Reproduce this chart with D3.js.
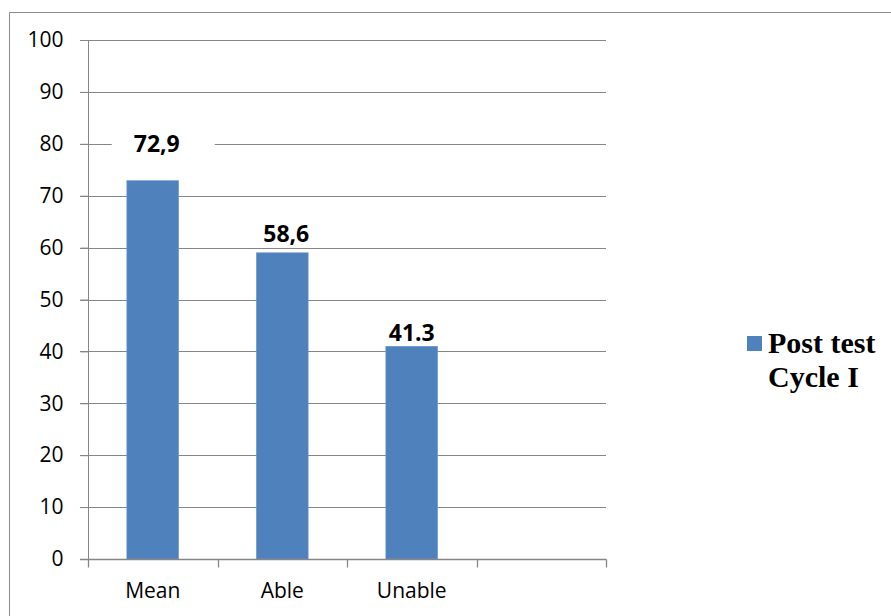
<!DOCTYPE html>
<html>
<head>
<meta charset="utf-8">
<script src="https://cdn.jsdelivr.net/npm/d3@7"></script>
<style>
  html, body { margin: 0; padding: 0; background: #fff; }
  svg { display: block; }
</style>
</head>
<body>
<script>
// ---- data ----
const categories = ["Mean", "Able", "Unable", ""];
const values = [72.9, 59.0, 41.0];
const valueLabels = ["72,9", "58,6", "41.3"];
const seriesName = ["Post test", "Cycle I"];
const yTicks = [0, 10, 20, 30, 40, 50, 60, 70, 80, 90, 100];

// ---- layout ----
const W = 891, H = 616;
const plot = { left: 88, right: 606, top: 40, bottom: 559 };
const labelBaselineValue = [78.4, 61.1, 42.0]; // where the hand-placed labels sit
const barColor = "#4F81BD";
const gridColor = "#868686";

const svg = d3.select("body").append("svg").attr("width", W).attr("height", H);

// outer frame (top and left edges visible)
svg.append("line").attr("x1", 9.5).attr("x2", W).attr("y1", 12.5).attr("y2", 12.5)
  .attr("stroke", "#8c8c8c").attr("stroke-width", 1);
svg.append("line").attr("x1", 9.5).attr("x2", 9.5).attr("y1", 12.5).attr("y2", H)
  .attr("stroke", "#8c8c8c").attr("stroke-width", 1);

const x = d3.scaleBand().domain(categories.map((c, i) => i)).range([plot.left, plot.right]).paddingInner(0.6).paddingOuter(0.3);
const xOuter = d3.scaleBand().domain(categories.map((c, i) => i)).range([plot.left, plot.right]);
const y = d3.scaleLinear().domain([0, 100]).range([plot.bottom, plot.top]);

// gridlines (also act as left ticks)
const grid = svg.append("g");
grid.selectAll("line").data(yTicks.filter(t => t > 0)).join("line")
  .attr("x1", plot.left - 8).attr("x2", plot.right)
  .attr("y1", d => Math.round(y(d)) + 0.5).attr("y2", d => Math.round(y(d)) + 0.5)
  .attr("stroke", gridColor).attr("stroke-width", 1);

// y axis
const yAxis = d3.axisLeft(y).tickValues(yTicks).tickSize(8).tickPadding(17);
const gy = svg.append("g").attr("transform", `translate(${plot.left + 0.5},0)`).call(yAxis);
gy.select(".domain").attr("stroke", gridColor).attr("d", `M-8,${plot.bottom + 0.5}H0V${plot.top}`);
gy.selectAll(".tick line").attr("stroke", gridColor);
gy.selectAll(".tick text").attr("font-family", "'Open Sans', sans-serif").attr("font-size", 21).attr("fill", "#000");

// bars
svg.append("g").selectAll("rect").data(values).join("rect")
  .attr("x", (d, i) => x(i))
  .attr("y", d => y(d))
  .attr("width", x.bandwidth())
  .attr("height", d => y(0) - y(d))
  .attr("fill", barColor)
  .attr("stroke", "#6f9bd1").attr("stroke-width", 0.6);

// x axis
const gx = svg.append("g").attr("transform", `translate(0,${plot.bottom + 0.5})`);
gx.append("line").attr("x1", plot.left - 8).attr("x2", plot.right + 0.5).attr("stroke", gridColor).attr("stroke-width", 1.3);
gx.selectAll(".sep").data(d3.range(categories.length + 1)).join("line").attr("class", "sep")
  .attr("x1", i => Math.round(plot.left + i * xOuter.bandwidth()) + 0.5)
  .attr("x2", i => Math.round(plot.left + i * xOuter.bandwidth()) + 0.5)
  .attr("y1", 0).attr("y2", 8).attr("stroke", gridColor).attr("stroke-width", 1.3);
gx.selectAll(".cat").data(categories).join("text").attr("class", "cat")
  .attr("x", (d, i) => xOuter(i) + xOuter.bandwidth() / 2)
  .attr("y", 38)
  .attr("text-anchor", "middle")
  .attr("font-family", "'Open Sans', sans-serif").attr("font-size", 21).attr("fill", "#000")
  .text(d => d);

// value labels with white boxes
const lab = svg.append("g");
values.forEach((v, i) => {
  const cx = x(i) + x.bandwidth() / 2 + (i === 0 ? 4 : i === 1 ? 4 : 0);
  const by = y(labelBaselineValue[i]);
  lab.append("rect").attr("x", cx - 45).attr("y", by - 20).attr("width", 103).attr("height", 25).attr("fill", "#fff");
  lab.append("text").attr("x", cx).attr("y", by).attr("text-anchor", "middle")
    .attr("font-family", "'Open Sans', sans-serif").attr("font-weight", "bold").attr("font-size", 23)
    .attr("fill", "#000").text(valueLabels[i]);
});

// legend
const lg = svg.append("g");
lg.append("rect").attr("x", 747).attr("y", 336).attr("width", 15).attr("height", 15).attr("fill", barColor);
lg.selectAll("text").data(seriesName).join("text")
  .attr("x", 768).attr("y", (d, i) => 353 + i * 33.5)
  .attr("font-family", "'Liberation Serif', 'Times New Roman', serif").attr("font-weight", "bold").attr("font-size", 30)
  .attr("fill", "#000").text(d => d);
</script>
</body>
</html>
